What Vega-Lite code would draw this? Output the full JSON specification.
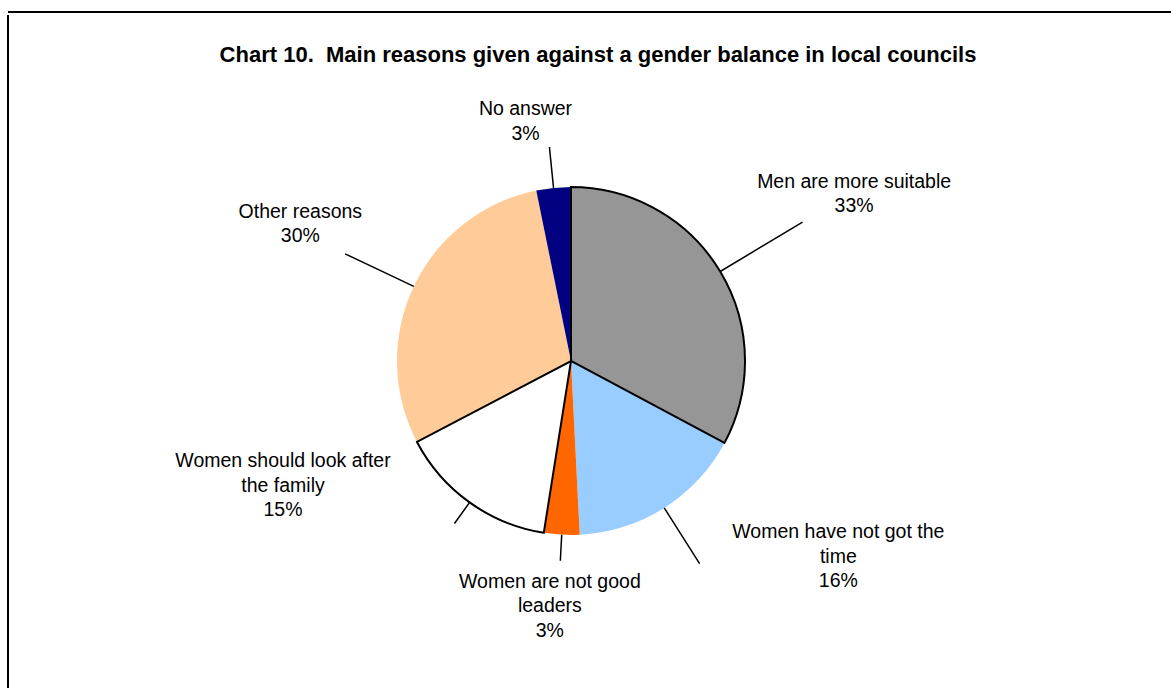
{
  "$schema": "https://vega.github.io/schema/vega-lite/v6.json",
  "width": 1200,
  "height": 700,
  "autosize": "none",
  "padding": {"left": 8, "top": 12, "right": -37, "bottom": -24},
  "background": "white",
  "view": {"stroke": "black", "strokeWidth": 2, "fill": "white", "strokeDash": [1200, 1600, 997]},
  "title": {
    "text": "Chart 10.\u00a0 Main reasons given against a gender balance in local councils",
    "anchor": "middle",
    "font": "Liberation Sans",
    "fontSize": 22,
    "fontWeight": "bold",
    "color": "black",
    "offset": 0,
    "dy": 55,
    "dx": -10
  },
  "data": {
    "values": [
      {"idx": 1, "reason": "Men are more suitable", "value": 32.8, "label": "Men are more suitable\n33%"},
      {"idx": 2, "reason": "Women have not got the time", "value": 16.4, "label": "Women have not got the\ntime\n16%"},
      {"idx": 3, "reason": "Women are not good leaders", "value": 3.3, "label": "Women are not good\nleaders\n3%"},
      {"idx": 4, "reason": "Women should look after the family", "value": 14.8, "label": "Women should look after\nthe family\n15%"},
      {"idx": 5, "reason": "Other reasons", "value": 29.5, "label": "Other reasons\n30%"},
      {"idx": 6, "reason": "No answer", "value": 3.2, "label": "No answer\n3%"}
    ]
  },
  "encoding": {
    "theta": {"field": "value", "type": "quantitative", "stack": true},
    "order": {"field": "idx", "type": "quantitative"},
    "detail": {"field": "reason", "type": "nominal"}
  },
  "layer": [
    {
      "mark": {"type": "arc", "radius": 174, "xOffset": -37, "yOffset": -1},
      "encoding": {
        "color": {
          "field": "reason",
          "type": "nominal",
          "scale": {
            "domain": ["Men are more suitable", "Women have not got the time", "Women are not good leaders", "Women should look after the family", "Other reasons", "No answer"],
            "range": ["#969696", "#99CCFF", "#FF6600", "#FFFFFF", "#FFCC99", "#000080"]
          },
          "legend": null
        }
      }
    },
    {
      "mark": {"type": "arc", "radius": 174, "filled": false, "stroke": "black", "strokeWidth": 2, "xOffset": -37, "yOffset": -1},
      "encoding": {
        "strokeOpacity": {"condition": {"test": "datum.idx === 1 || datum.idx === 4", "value": 1}, "value": 0}
      }
    },
    {
      "mark": {"type": "arc", "radius": 270, "radius2": 174, "padAngle": 3, "filled": false, "stroke": "black", "strokeWidth": 1.5, "xOffset": -37, "yOffset": -1, "clip": true},
      "encoding": {"strokeOpacity": {"condition": {"test": "datum.idx === 1", "value": 1}, "value": 0}}
    },
    {
      "mark": {"type": "arc", "radius": 240, "radius2": 174, "padAngle": 3, "filled": false, "stroke": "black", "strokeWidth": 1.5, "xOffset": -37, "yOffset": -1, "clip": true},
      "encoding": {"strokeOpacity": {"condition": {"test": "datum.idx === 2", "value": 1}, "value": 0}}
    },
    {
      "mark": {"type": "arc", "radius": 200, "radius2": 174, "padAngle": 3, "filled": false, "stroke": "black", "strokeWidth": 1.5, "xOffset": -37, "yOffset": -1, "clip": true},
      "encoding": {"strokeOpacity": {"condition": {"test": "datum.idx === 3 || datum.idx === 4", "value": 1}, "value": 0}}
    },
    {
      "mark": {"type": "arc", "radius": 215, "radius2": 174, "padAngle": 3, "filled": false, "stroke": "black", "strokeWidth": 1.5, "xOffset": -37, "yOffset": -1, "clip": true},
      "encoding": {"strokeOpacity": {"condition": {"test": "datum.idx === 6", "value": 1}, "value": 0}}
    },
    {
      "mark": {"type": "arc", "radius": 250, "radius2": 174, "padAngle": 3, "filled": false, "stroke": "black", "strokeWidth": 1.5, "xOffset": -37, "yOffset": -1, "clip": true},
      "encoding": {"strokeOpacity": {"condition": {"test": "datum.idx === 5", "value": 1}, "value": 0}}
    },
    {
      "mark": {"type": "text", "radius": 329, "dx": 1, "dy": -10, "xOffset": -37, "yOffset": -1, "clip": true, "font": "Liberation Sans", "fontSize": 19.5, "lineBreak": "\n", "lineHeight": 24.5, "align": "center", "baseline": "middle", "color": "black"},
      "encoding": {"text": {"condition": {"test": "datum.idx === 1", "field": "label", "type": "nominal"}, "value": ""}}
    },
    {
      "mark": {"type": "text", "radius": 331, "dx": 90, "dy": -108, "xOffset": -37, "yOffset": -1, "clip": true, "font": "Liberation Sans", "fontSize": 19.5, "lineBreak": "\n", "lineHeight": 24.5, "align": "center", "baseline": "middle", "color": "black"},
      "encoding": {"text": {"condition": {"test": "datum.idx === 2", "field": "label", "type": "nominal"}, "value": ""}}
    },
    {
      "mark": {"type": "text", "radius": 246, "dx": -8, "dy": -25, "xOffset": -37, "yOffset": -1, "clip": true, "font": "Liberation Sans", "fontSize": 19.5, "lineBreak": "\n", "lineHeight": 24.5, "align": "center", "baseline": "middle", "color": "black"},
      "encoding": {"text": {"condition": {"test": "datum.idx === 3", "field": "label", "type": "nominal"}, "value": ""}}
    },
    {
      "mark": {"type": "text", "radius": 314, "dx": -105, "dy": -155, "xOffset": -37, "yOffset": -1, "clip": true, "font": "Liberation Sans", "fontSize": 19.5, "lineBreak": "\n", "lineHeight": 24.5, "align": "center", "baseline": "middle", "color": "black"},
      "encoding": {"text": {"condition": {"test": "datum.idx === 4", "field": "label", "type": "nominal"}, "value": ""}}
    },
    {
      "mark": {"type": "text", "radius": 304, "dx": 4, "dy": -19, "xOffset": -37, "yOffset": -1, "clip": true, "font": "Liberation Sans", "fontSize": 19.5, "lineBreak": "\n", "lineHeight": 24.5, "align": "center", "baseline": "middle", "color": "black"},
      "encoding": {"text": {"condition": {"test": "datum.idx === 5", "field": "label", "type": "nominal"}, "value": ""}}
    },
    {
      "mark": {"type": "text", "radius": 244, "dx": -21, "dy": -9, "xOffset": -37, "yOffset": -1, "clip": true, "font": "Liberation Sans", "fontSize": 19.5, "lineBreak": "\n", "lineHeight": 24.5, "align": "center", "baseline": "middle", "color": "black"},
      "encoding": {"text": {"condition": {"test": "datum.idx === 6", "field": "label", "type": "nominal"}, "value": ""}}
    }
  ]
}
